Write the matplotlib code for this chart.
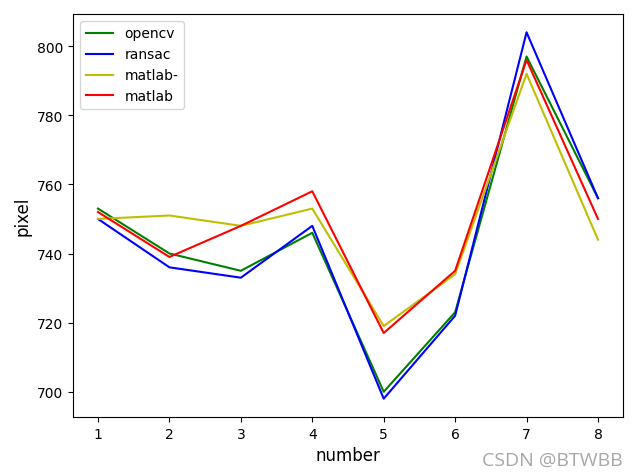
import matplotlib
matplotlib.use("Agg")
from matplotlib import pyplot as plt

number = [1, 2, 3, 4, 5, 6, 7, 8]
opencv = [753, 740, 735, 746, 700, 723, 797, 756]
ransac = [750, 736, 733, 748, 698, 722, 804, 756]
matlab_minus = [750, 751, 748, 753, 719, 734, 792, 744]
matlab = [752, 739, 748, 758, 717, 735, 796, 750]

fig = plt.figure(figsize=(6.37, 4.77), dpi=100)
plt.plot(number, opencv, 'g', label='opencv')
plt.plot(number, ransac, 'b', label='ransac')
plt.plot(number, matlab_minus, 'y', label='matlab-')
plt.plot(number, matlab, 'r', label='matlab')
plt.xlabel("number", fontsize=12)
plt.ylabel("pixel", fontsize=12)
plt.legend(loc='upper left')
plt.subplots_adjust(left=0.1146, right=0.978, top=0.9686, bottom=0.1237)
fig.text(0.977, 0.016, "CSDN @BTWBB", ha='right', va='bottom',
         fontsize=14, color='#a8a8a8', family='Open Sans')
plt.savefig("out.png")
